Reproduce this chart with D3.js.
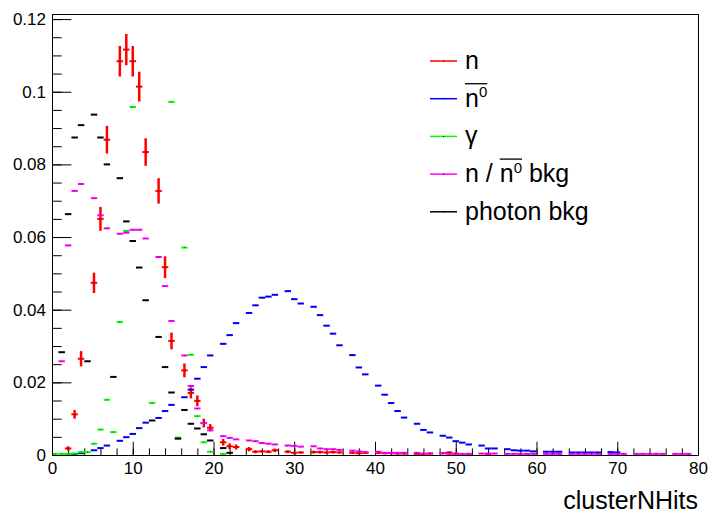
<!DOCTYPE html>
<html>
<head>
<meta charset="utf-8">
<script src="https://cdn.jsdelivr.net/npm/d3@7"></script>
<style>
  body { margin: 0; background: #fff; }
  svg { display: block; font-family: "Liberation Sans", Arial, Helvetica, sans-serif; }
</style>
</head>
<body>
<div id="chart"></div>
<script>
// histogram binning: 100 bins over clusterNHits 0..80
const xMin = 0, xMax = 80, nBins = 100;
const yMax = 0.1214;

const xTicks = [0, 10, 20, 30, 40, 50, 60, 70, 80];
const yTicks = [0, 0.02, 0.04, 0.06, 0.08, 0.1, 0.12];
const xTitle = "clusterNHits";

// bin contents, one entry per bin (null = empty bin, not drawn)
const nHist = [
  null, null, 0.0018, 0.0112, 0.0265, null, 0.0474, 0.0650, 0.0868, null,
  0.1084, 0.1116, 0.1084, 0.1014, 0.0834, null, 0.0727, 0.0517, 0.0314, null,
  0.0233, 0.0171, 0.0149, 0.0088, 0.0075, null, 0.0035, 0.0024, 0.0022, null,
  0.0016, 0.0009, 0.0010, 0.0009, 0.0013, null, 0.0009, 0.0006, 0.0007, null,
  0.0008, 0.0008, 0.0007, 0.0008, 0.0007, null, 0.0006, 0.0005, 0.0006, null,
  0.0006, 0.0005, 0.0005, 0.0004, 0.0004, null, 0.0003, 0.0003, 0.0004, null,
  0.0005, 0.0007, 0.0004, null, 0.0003, null, null, 0.0003, null, null,
  null, null, null, null, null, null, null, null, null, null,
  null, null, null, null, null, null, null, null, null, null,
  null, null, null, null, null, null, null, null, null, null
];
const nErr = [
  null, null, 0.0006, 0.0012, 0.0021, null, 0.0028, 0.0033, 0.0038, null,
  0.0042, 0.0043, 0.0042, 0.0041, 0.0038, null, 0.0035, 0.0030, 0.0023, null,
  0.0019, 0.0015, 0.0015, 0.0012, 0.0010, null, 0.0009, 0.0008, 0.0007, null,
  0.0006, 0.0004, 0.0004, 0.0004, 0.0005, null, 0.0004, 0.0003, 0.0003, null,
  0.0004, 0.0004, 0.0003, 0.0004, 0.0003, null, 0.0003, 0.0003, 0.0003, null,
  0.0003, 0.0003, 0.0003, 0.0003, 0.0003, null, 0.0002, 0.0002, 0.0003, null,
  0.0003, 0.0003, 0.0003, null, 0.0002, null, null, 0.0002, null, null,
  null, null, null, null, null, null, null, null, null, null,
  null, null, null, null, null, null, null, null, null, null,
  null, null, null, null, null, null, null, null, null, null
];
const nbarHist = [
  null, null, 0.0001, 0.0002, 0.0005, null, 0.0013, 0.0019, 0.0026, null,
  0.0039, 0.0049, 0.0058, 0.0074, 0.0089, null, 0.0102, 0.0121, 0.0138, null,
  0.0159, 0.0180, 0.0210, 0.0242, 0.0274, null, 0.0306, 0.0330, 0.0363, null,
  0.0391, 0.0412, 0.0433, 0.0436, 0.0441, null, 0.0451, 0.0429, 0.0417, null,
  0.0408, 0.0385, 0.0356, 0.0334, 0.0302, null, 0.0275, 0.0241, 0.0222, null,
  0.0191, 0.0166, 0.0143, 0.0121, 0.0103, null, 0.0086, 0.0069, 0.0062, null,
  0.0053, 0.0048, 0.0038, 0.0034, 0.0029, null, 0.0026, 0.0018, 0.0018, null,
  0.0016, 0.0013, 0.0012, 0.0012, 0.0010, null, 0.0009, 0.0009, 0.0009, null,
  0.0007, 0.0007, 0.0007, 0.0007, 0.0007, null, 0.0008, 0.0007, null, null,
  null, null, null, null, null, null, null, null, null, null
];
// gamma bins 13,14,16,17 run above the frame (range set by the first histogram)
const gammaHist = [
  0.0003, 0.0003, 0.0003, 0.0004, 0.0008, 0.0008, 0.0031, 0.0070, 0.0152, 0.0063,
  0.0366, 0.0617, 0.0958, null, null, 0.0143, null, null, 0.0972, 0.0048,
  0.0571, 0.0276, 0.0107, 0.0035, 0.0009, null, 0.0003, null, null, null,
  null, null, null, null, null, null, null, null, null, null,
  null, null, null, null, null, null, null, null, null, null,
  null, null, null, null, null, null, null, null, null, null,
  null, null, null, null, null, null, null, null, null, null,
  null, null, null, null, null, null, null, null, null, null,
  null, null, null, null, null, null, null, null, null, null,
  null, null, null, null, null, null, null, null, null, null
];
const nBkgHist = [
  null, 0.0258, 0.0577, 0.0727, 0.0746, null, 0.0707, 0.0660, 0.0624, null,
  0.0609, 0.0612, 0.0620, 0.0620, 0.0596, null, 0.0545, 0.0465, 0.0369, null,
  0.0274, 0.0190, 0.0128, 0.0088, 0.0068, null, 0.0052, 0.0047, 0.0043, null,
  0.0040, 0.0038, 0.0033, 0.0031, 0.0029, null, 0.0026, 0.0025, 0.0023, null,
  0.0024, 0.0018, 0.0016, 0.0016, 0.0014, null, 0.0012, 0.0010, 0.0008, null,
  0.0009, 0.0006, 0.0006, 0.0006, 0.0006, null, 0.0006, 0.0004, 0.0004, null,
  0.0005, 0.0003, 0.0003, 0.0003, 0.0003, null, 0.0004, 0.0004, 0.0004, null,
  0.0003, 0.0003, 0.0003, 0.0003, 0.0003, null, 0.0003, 0.0003, 0.0003, null,
  0.0003, 0.0003, 0.0003, 0.0003, 0.0003, null, 0.0003, 0.0003, 0.0003, null,
  0.0003, 0.0003, 0.0003, 0.0003, 0.0003, null, 0.0003, 0.0003, 0.0003, null
];
const photonBkgHist = [
  null, 0.0283, 0.0663, 0.0874, 0.0908, 0.0258, 0.0937, 0.0874, 0.0800, 0.0215,
  0.0762, 0.0643, 0.0589, 0.0516, 0.0426, 0.0095, 0.0325, 0.0242, 0.0172, 0.0045,
  0.0124, 0.0086, 0.0073, 0.0057, 0.0040, null, 0.0019, 0.0006, null, null,
  null, null, null, null, null, null, null, null, null, null,
  null, null, null, null, null, null, null, null, null, null,
  null, null, null, null, null, null, null, null, null, null,
  null, null, null, null, null, null, null, null, null, null,
  null, null, null, null, null, null, null, null, null, null,
  null, null, null, null, null, null, null, null, null, null,
  null, null, null, null, null, null, null, null, null, null
];

const seriesColors = ["#ff0000", "#0000ff", "#00ff00", "#ff00ff", "#000000"];
// legend labels, split into parts: bar = overline, sup = superscript
const legendLabels = [
  [{ t: "n" }],
  [{ t: "n", bar: true }, { t: "0", sup: true, bar: true }],
  [{ t: "\u03b3" }],
  [{ t: "n / " }, { t: "n", bar: true }, { t: "0", sup: true, bar: true }, { t: " bkg" }],
  [{ t: "photon bkg" }]
];

const width = 713, height = 515;
const margin = { top: 14, right: 15, bottom: 60, left: 52 };
const plotW = width - margin.left - margin.right;
const plotH = height - margin.top - margin.bottom;

const svg = d3.select("#chart").append("svg")
  .attr("width", width)
  .attr("height", height);

const x = d3.scaleLinear().domain([xMin, xMax]).range([margin.left, margin.left + plotW]);
const y = d3.scaleLinear().domain([0, yMax]).range([margin.top + plotH, margin.top]);
const binW = (xMax - xMin) / nBins;

svg.append("clipPath").attr("id", "frame-clip")
  .append("rect")
  .attr("x", margin.left).attr("y", margin.top)
  .attr("width", plotW).attr("height", plotH);

// axes: ROOT style ticks pointing into the frame
const xAxisG = svg.append("g").attr("transform", `translate(0,${margin.top + plotH})`);
xAxisG.append("g")
  .call(d3.axisBottom(x).tickValues(d3.range(xMin, xMax + 1, 2)).tickSize(-plotH * 0.015).tickFormat(""));
xAxisG.append("g")
  .call(d3.axisBottom(x).tickValues(xTicks).tickSize(-plotH * 0.03).tickPadding(7).tickFormat(d3.format("d")));

const yAxisG = svg.append("g").attr("transform", `translate(${margin.left},0)`);
yAxisG.append("g")
  .call(d3.axisLeft(y).tickValues(d3.range(0, 25).map(i => i * 0.005)).tickSize(-plotW * 0.015).tickFormat(""));
yAxisG.append("g")
  .call(d3.axisLeft(y).tickValues(yTicks).tickSize(-plotW * 0.03).tickPadding(6)
    .tickFormat(d => d === 0 ? "0" : String(+d.toFixed(2))));

svg.selectAll(".domain").remove();
svg.selectAll(".tick line").attr("stroke", "#000");
svg.selectAll(".tick text").attr("font-size", 17).attr("fill", "#000")
  .attr("font-family", "'Liberation Sans', Arial, Helvetica, sans-serif");

svg.append("text")
  .attr("x", margin.left + plotW)
  .attr("y", 509)
  .attr("text-anchor", "end")
  .attr("font-size", 25)
  .text(xTitle);

// histograms drawn as error-bar markers, in legend order
const marks = svg.append("g").attr("clip-path", "url(#frame-clip)");

function drawHist(values, color, errs) {
  const pts = values.map((v, k) => ({ k: k, v: v, e: errs ? errs[k] : null }))
    .filter(d => d.v !== null);
  const g = marks.append("g");
  if (errs) {
    g.selectAll("line.err").data(pts.filter(d => d.e)).join("line")
      .attr("class", "err")
      .attr("x1", d => x(xMin + (d.k + 0.5) * binW))
      .attr("x2", d => x(xMin + (d.k + 0.5) * binW))
      .attr("y1", d => y(d.v - d.e))
      .attr("y2", d => y(d.v + d.e))
      .attr("stroke", color)
      .attr("stroke-width", 2.5);
  }
  g.selectAll("line.bin").data(pts).join("line")
    .attr("class", "bin")
    .attr("x1", d => x(xMin + d.k * binW))
    .attr("x2", d => x(xMin + (d.k + 1) * binW))
    .attr("y1", d => y(d.v))
    .attr("y2", d => y(d.v))
    .attr("stroke", color)
    .attr("stroke-width", 2);
  g.selectAll("rect.dot").data(pts).join("rect")
    .attr("class", "dot")
    .attr("x", d => x(xMin + (d.k + 0.5) * binW) - 0.5)
    .attr("y", d => y(d.v) - 0.5)
    .attr("width", 1).attr("height", 1)
    .attr("fill", "#000").attr("opacity", 0.6);
}

drawHist(nHist, seriesColors[0], nErr);
drawHist(nbarHist, seriesColors[1]);
drawHist(gammaHist, seriesColors[2]);
drawHist(nBkgHist, seriesColors[3]);
drawHist(photonBkgHist, seriesColors[4]);

// frame
svg.append("rect")
  .attr("x", margin.left + 0.5).attr("y", margin.top + 0.5)
  .attr("width", plotW).attr("height", plotH)
  .attr("fill", "none").attr("stroke", "#000");

// legend
const legend = svg.append("g");
const rowY0 = 61, rowStep = 37.7;
legendLabels.forEach((parts, i) => {
  const ry = rowY0 + i * rowStep;
  legend.append("line")
    .attr("x1", 430).attr("x2", 457).attr("y1", ry).attr("y2", ry)
    .attr("stroke", seriesColors[i]).attr("stroke-width", 1.5);
  legend.append("rect")
    .attr("x", 443).attr("y", ry - 0.5).attr("width", 1).attr("height", 1)
    .attr("fill", "#000");
  let cx = 465;
  let barStart = null, barEnd = null;
  parts.forEach(p => {
    const t = legend.append("text")
      .attr("x", cx)
      .attr("y", p.sup ? ry - 1.5 : ry + 8)
      .attr("font-size", p.sup ? 15 : 25)
      .attr("xml:space", "preserve")
      .style("white-space", "pre")
      .text(p.t);
    const w = t.node().getComputedTextLength();
    if (p.bar) {
      if (barStart === null) barStart = cx;
      barEnd = cx + w;
    }
    cx += w;
  });
  if (barStart !== null) {
    legend.append("line")
      .attr("x1", barStart).attr("x2", barEnd)
      .attr("y1", ry - 15).attr("y2", ry - 15)
      .attr("stroke", "#000").attr("stroke-width", 1.3);
  }
});
</script>
</body>
</html>
